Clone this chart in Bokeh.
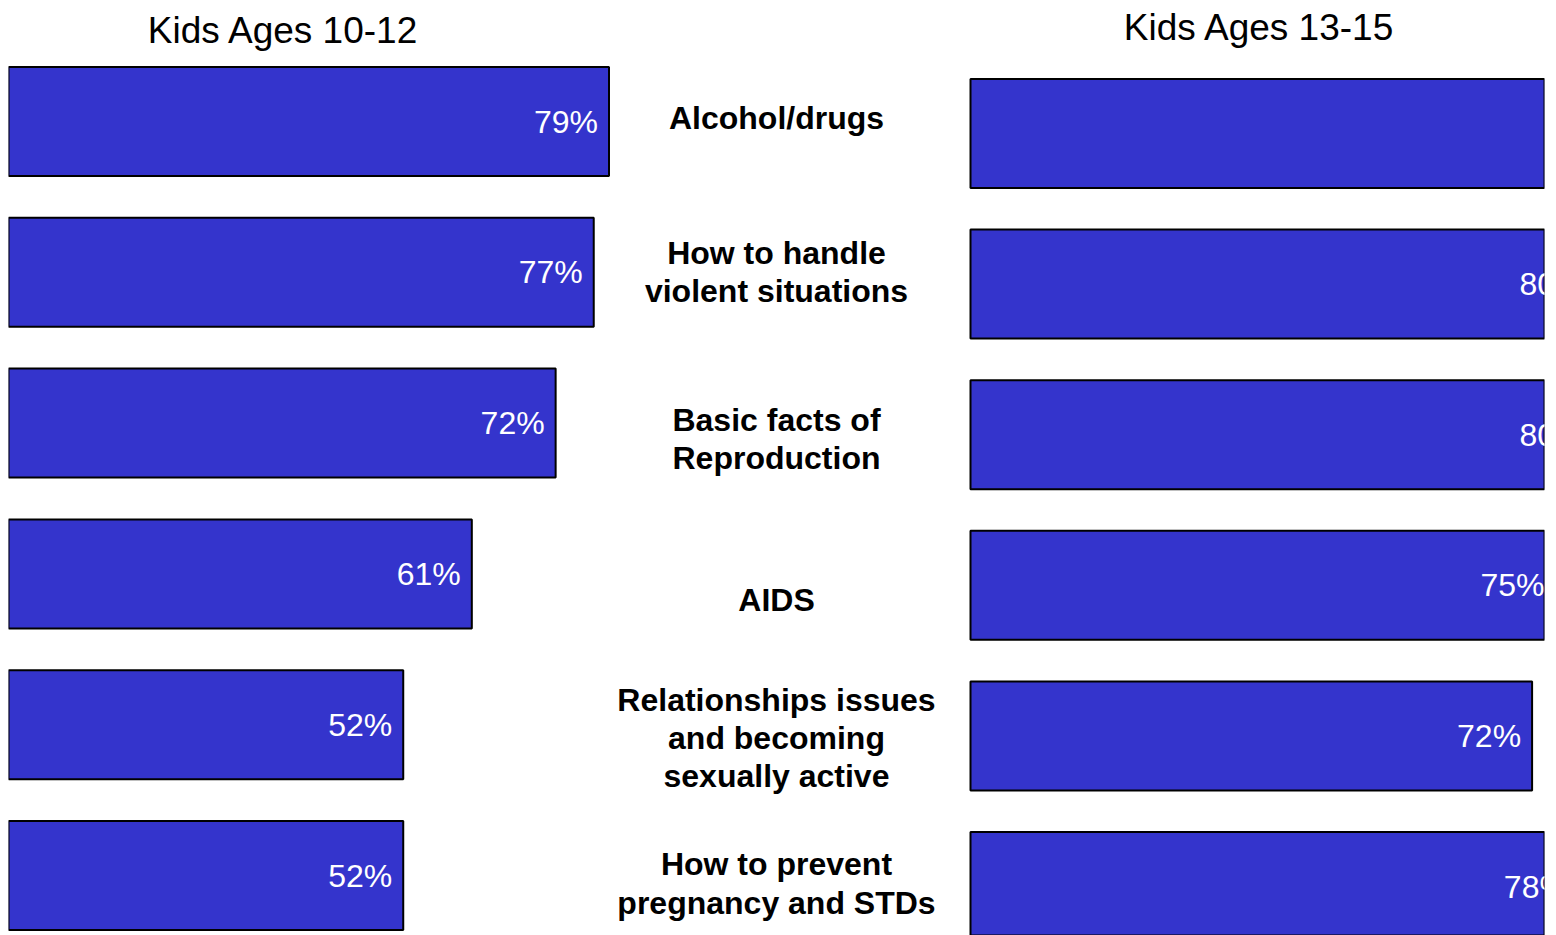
from bokeh.plotting import figure
from bokeh.models import Range1d, Label, ColumnDataSource
from bokeh.core.properties import value
from bokeh.embed import file_html
from bokeh.resources import INLINE

# ---- data ----
categories = ["Alcohol/drugs", "How to handle\nviolent situations", "Basic facts of\nReproduction",
              "AIDS", "Relationships issues\nand becoming\nsexually active",
              "How to prevent\npregnancy and STDs"]
ages_10_12 = [79, 77, 72, 61, 52, 52]
ages_13_15 = [86, 80, 80, 75, 72, 78]
title_left = "Kids Ages 10-12"
title_right = "Kids Ages 13-15"

# ---- layout / style ----
PAD_L, PAD_T, PAD_R = 8, 8, 12
FW, FH = 1536, 927          # frame size
BAR = "#3434CC"
FONT = "Liberation Sans"
SCALE_L = 7.62   # px per percent, left panel
SCALE_R = 7.8    # px per percent, right panel
X0_SHIFT = 1.5 / SCALE_L   # hide left outline of the left bars (clipped in reference)
RIGHT_X0 = 962   # px from frame left where right panel starts
MID_X = 768      # px from frame left for category labels
label_dy = [-16, -12, 4, 15, 2, -3]

rows = list(range(len(categories)))

p = figure(width=FW + PAD_L + PAD_R, height=FH + PAD_T, output_backend="svg",
           toolbar_location=None, x_axis_location=None, y_axis_location=None,
           min_border_left=PAD_L, min_border_top=PAD_T, min_border_right=PAD_R,
           min_border_bottom=0,
           x_range=Range1d(X0_SHIFT, X0_SHIFT + FW / SCALE_L),
           y_range=Range1d((FH + 8 - 121) / 150.8, (8 - 121) / 150.8))
p.extra_x_ranges = {"right": Range1d(-RIGHT_X0 / SCALE_R, (FW - RIGHT_X0) / SCALE_R)}
p.extra_y_ranges = {"right": Range1d((FH + 8 - 133) / 150.6, (8 - 133) / 150.6)}
p.grid.visible = False
p.outline_line_color = None
p.background_fill_color = "white"
p.border_fill_color = "white"

src_l = ColumnDataSource(dict(y=rows, v=ages_10_12, t=[f"{v}%" for v in ages_10_12]))
src_r = ColumnDataSource(dict(y=rows, v=ages_13_15, t=[f"{v}%" for v in ages_13_15]))

p.hbar(y="y", right="v", left=0, height=0.723, source=src_l,
       fill_color=BAR, line_color="black", line_width=2)
p.text(x="v", y="y", text="t", source=src_l, x_offset=-11, text_align="right",
       text_baseline="middle", text_color="white", text_font=value(FONT),
       text_font_size="32px")

p.hbar(y="y", right="v", left=0, height=0.724, source=src_r,
       fill_color=BAR, line_color="black", line_width=2,
       x_range_name="right", y_range_name="right")
p.text(x="v", y="y", text="t", source=src_r, x_offset=-11, text_align="right",
       text_baseline="middle", text_color="white", text_font=value(FONT),
       text_font_size="32px", x_range_name="right", y_range_name="right")

src_c = ColumnDataSource(dict(x=[MID_X / SCALE_L + X0_SHIFT] * len(rows), y=rows, t=categories, dy=label_dy))
p.text(x="x", y="y", text="t", source=src_c, y_offset="dy", text_align="center",
       text_baseline="middle", text_color="black", text_font=value(FONT),
       text_font_size="32px", text_font_style="bold", text_line_height=1.06,
       y_range_name="right")

p.add_layout(Label(x=275, y=905, x_units="screen", y_units="screen", text=title_left,
                   text_align="center", text_baseline="alphabetic", text_font=FONT,
                   text_font_size="37px", text_color="black"))
p.add_layout(Label(x=1251, y=908, x_units="screen", y_units="screen", text=title_right,
                   text_align="center", text_baseline="alphabetic", text_font=FONT,
                   text_font_size="37px", text_color="black"))

open("out.html", "w").write(file_html(p, INLINE))
